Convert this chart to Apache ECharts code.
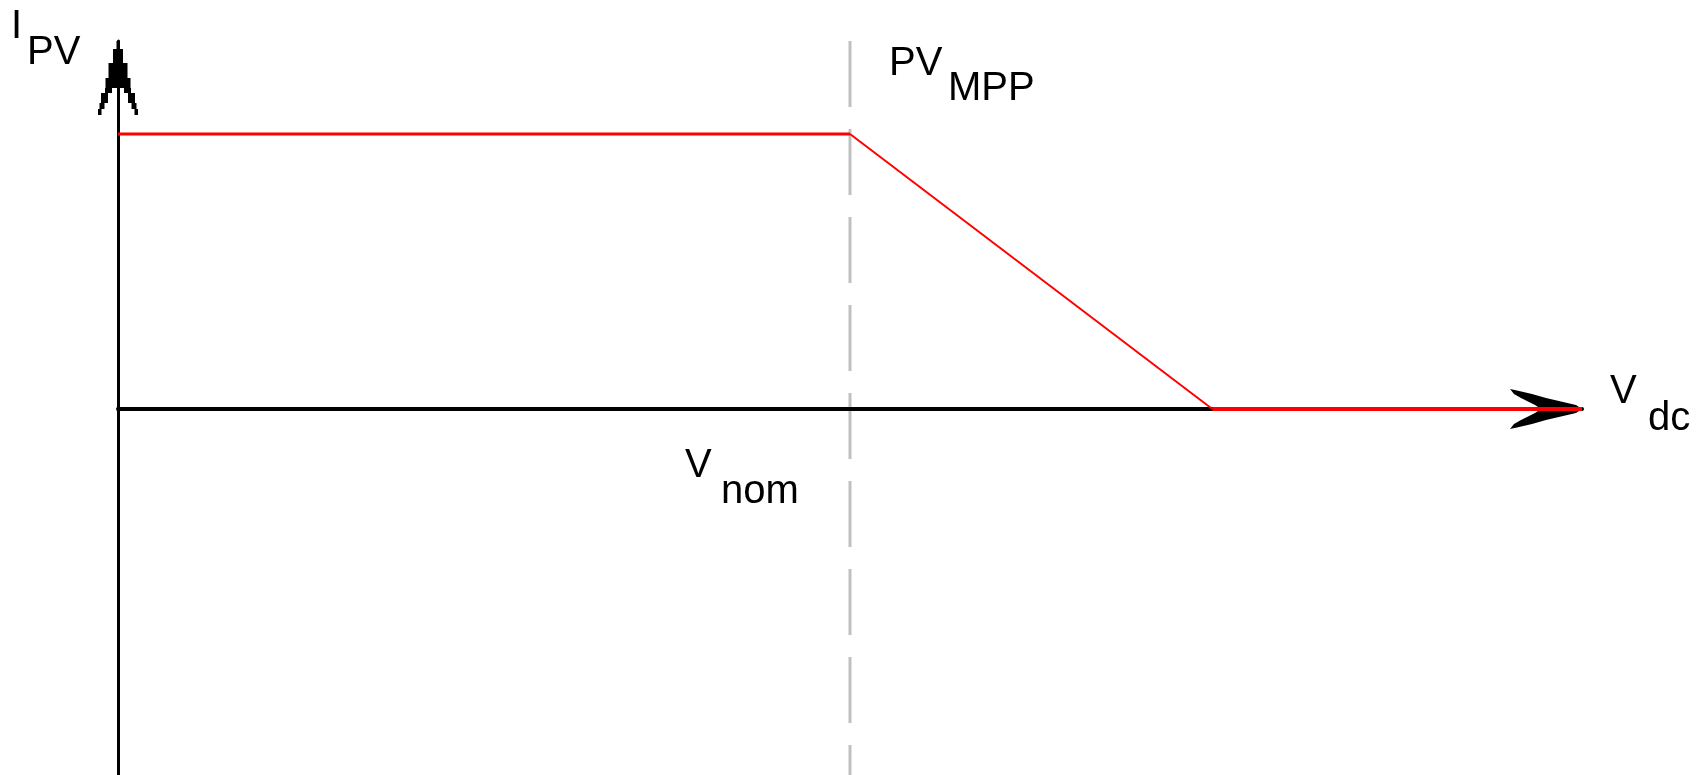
<!doctype html>
<html lang="en">
  <head>
    <meta charset="UTF-8" />
    <title>PV current vs DC voltage</title>
    <script src="https://cdn.jsdelivr.net/npm/echarts@6/dist/echarts.min.js"></script>
    <style>
      html, body { margin: 0; padding: 0; background: #fff; }
    </style>
  </head>
  <body>
    <div id="chart" style="width: 1704px; height: 775px"></div>
    <script>
      // normalised curve: V_nom = 1, I_max = 1
      const vdc = [0, 1, 1.495, 2];
      const ipv = [1, 1, 0, 0];
      const vNom = 1;

      // [main text, subscript]
      const yName = ['I', 'PV'];
      const xName = ['V', 'dc'];
      const nomName = ['V', 'nom'];
      const mppName = ['PV', 'MPP'];

      const Y_MIN = -1.331;
      const Y_MAX = 1.338;

      // arrow heads, drawn pointing up (echarts turns them along the axis)
      const yArrow =
        'path://M18.5,0 L21.5,0 L21.5,8 L25,8 L25,22 L29.5,22 L29.5,37 L32.5,37 L32.5,47 L33,47 L33,52 L37,52 ' +
        'L37,62 L38.5,62 L38.5,68 L40,68 L40,74 L36.5,74 L36.5,68 L33.5,68 L33.5,62 L30,62 L30,52 L26,52 L26,47 ' +
        'L14,47 L14,52 L10,52 L10,62 L6.5,62 L6.5,68 L3.5,68 L3.5,74 L0,74 L0,68 L1.5,68 L1.5,62 L3,62 L3,52 ' +
        'L7,52 L7,47 L7.5,47 L7.5,37 L10.5,37 L10.5,22 L15,22 L15,8 L18.5,8 Z';
      const xArrow =
        'path://M20,0 L24,6 L27.5,21 L31,36 L35,50 L38.5,65 L40,72 L35,68 L31,61 L27.5,54 L24,47 L20,41 ' +
        'L16,47 L12.5,54 L9,61 L5,68 L0,72 L1.5,65 L5,50 L9,36 L12.5,21 L16,6 Z';

      const FONT = '40px "Liberation Sans", Arial, sans-serif';
      const txt = (s, x, y) => ({
        type: 'text',
        x: x,
        y: y,
        style: { text: s, fill: '#000', font: FONT, align: 'left', verticalAlign: 'middle' },
      });

      const pts = vdc.map((v, i) => [v, ipv[i]]);
      const redSeg = (a, b, w) => ({
        type: 'line',
        data: pts.slice(a, b + 1),
        symbol: 'none',
        z: 5,
        lineStyle: { color: '#ff0000', width: w },
      });

      const chart = echarts.init(document.getElementById('chart'), null, { renderer: 'canvas' });
      chart.setOption({
        animation: false,
        grid: { left: 118, right: 122, top: 41, bottom: 0, containLabel: false },
        xAxis: {
          type: 'value',
          min: vdc[0],
          max: vdc[vdc.length - 1],
          z: 4,
          axisLine: {
            onZero: true,
            symbol: ['none', xArrow],
            symbolSize: [40, 72],
            symbolOffset: [0, -36],
            lineStyle: { color: '#000', width: 4 },
          },
          axisTick: { show: false },
          axisLabel: { show: false },
          splitLine: { show: false },
        },
        yAxis: {
          type: 'value',
          min: Y_MIN,
          max: Y_MAX,
          z: 4,
          axisLine: {
            show: true,
            onZero: false,
            symbol: ['none', yArrow],
            symbolSize: [40, 74],
            symbolOffset: [0, -37],
            lineStyle: { color: '#000', width: 3 },
          },
          axisTick: { show: false },
          axisLabel: { show: false },
          splitLine: { show: false },
        },
        series: [
          {
            type: 'line',
            data: [
              [vNom, Y_MAX],
              [vNom, Y_MIN],
            ],
            symbol: 'none',
            z: 2,
            lineStyle: { color: '#c0c0c0', width: 3, type: [66, 22] },
          },
          redSeg(0, 1, 3),
          redSeg(1, 2, 2),
          redSeg(2, 3, 4),
        ],
        graphic: [
          txt(yName[0], 11, 26.5),
          txt(yName[1], 27, 53),
          txt(mppName[0], 889, 63.5),
          txt(mppName[1], 948, 89),
          txt(xName[0], 1610, 392),
          txt(xName[1], 1648, 419),
          txt(nomName[0], 685, 465.5),
          txt(nomName[1], 721, 492),
        ],
      });
    </script>
  </body>
</html>
